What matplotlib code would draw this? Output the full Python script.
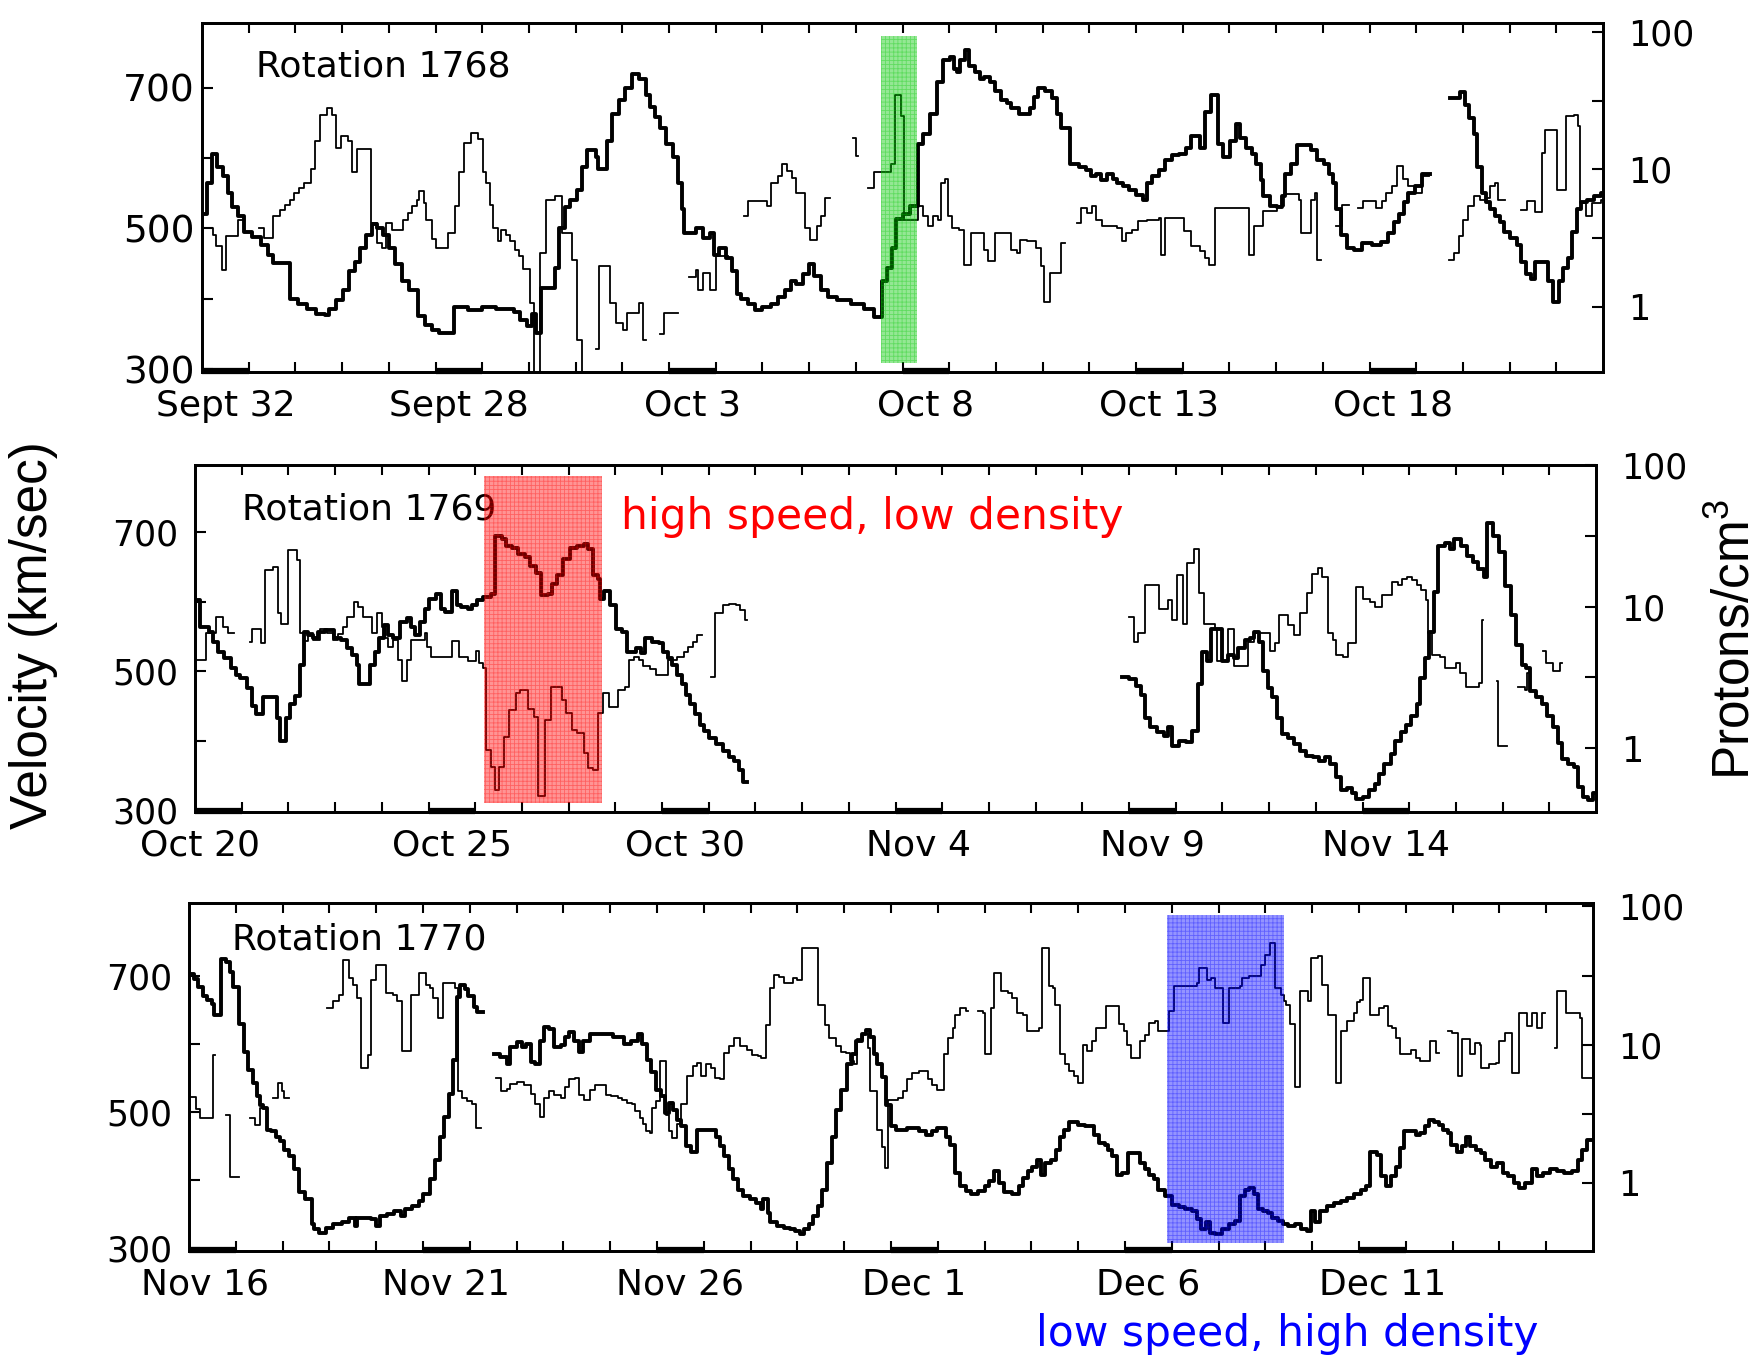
import numpy as np
import matplotlib
matplotlib.use('Agg')
import matplotlib.pyplot as plt
from matplotlib.ticker import NullLocator

# step breakpoints (day from panel start, value); None = data gap
vel_1768 = [
    (0.0, 520), (0.1, 565), (0.22, 606), (0.32, 588), (0.44, 574), (0.56, 550), (0.65, 530),
    (0.78, 518), (0.91, 495), (1.07, 488), (1.27, 476), (1.41, 462), (1.53, 451), (1.88, 400),
    (2.05, 393), (2.24, 386), (2.44, 379), (2.63, 377), (2.73, 386), (2.88, 398), (3.02, 412),
    (3.15, 439), (3.27, 453), (3.38, 472), (3.51, 490), (3.64, 506), (3.75, 500), (3.87, 490),
    (4.0, 472), (4.14, 449), (4.29, 425), (4.43, 412), (4.63, 375), (4.78, 363), (4.92, 356),
    (5.07, 351), (5.39, 388), (5.7, 384), (5.99, 388), (6.29, 386), (6.68, 381), (6.82, 370),
    (6.97, 361), (7.07, 379), (7.16, 351), (7.26, 416), (7.55, 444), (7.65, 500), (7.77, 530),
    (7.89, 541), (8.04, 555), (8.14, 587), (8.24, 611), (8.43, 601), (8.48, 585), (8.68, 625),
    (8.77, 662), (8.92, 682), (9.06, 699), (9.21, 719), (9.36, 712), (9.5, 689), (9.6, 673),
    (9.7, 659), (9.81, 643), (9.94, 620), (10.09, 601), (10.19, 564), (10.28, 527), (10.33, 493),
    (10.58, 500), (10.72, 486), (10.87, 493), (10.96, 462), (11.06, 472), (11.21, 458),
    (11.35, 439), (11.45, 407), (11.55, 400), (11.7, 393), (11.84, 384), (11.99, 388),
    (12.18, 393), (12.33, 402), (12.48, 412), (12.62, 425), (12.72, 421), (12.87, 435),
    (12.99, 449), (13.11, 432), (13.26, 412), (13.4, 402), (13.6, 398), (13.89, 393),
    (14.18, 386), (14.38, 374), (14.57, 425), (14.67, 444), (14.77, 472), (14.87, 513),
    (15.0, 520), (15.15, 532), (15.34, 620), (15.44, 634), (15.58, 662), (15.73, 708),
    (15.87, 740), (16.02, 743), (16.1, 726), (16.17, 722), (16.23, 740), (16.33, 754),
    (16.43, 731), (16.55, 722), (16.65, 712), (16.75, 715), (16.87, 708), (16.99, 696),
    (17.11, 682), (17.23, 678), (17.33, 671), (17.5, 662), (17.72, 671), (17.82, 687),
    (17.91, 699), (18.06, 696), (18.2, 685), (18.3, 662), (18.4, 643), (18.59, 592),
    (18.79, 587), (18.93, 583), (19.03, 574), (19.15, 578), (19.24, 569), (19.37, 578),
    (19.5, 571), (19.59, 564), (19.73, 560), (19.85, 555), (20.0, 548), (20.15, 541),
    (20.24, 564), (20.34, 574), (20.49, 583), (20.63, 597), (20.78, 604), (20.92, 606),
    (21.07, 615), (21.17, 631), (21.36, 615), (21.48, 666), (21.6, 689), (21.75, 620),
    (21.86, 601), (22.01, 625), (22.14, 648), (22.23, 629), (22.35, 615), (22.48, 606),
    (22.57, 592), (22.67, 569), (22.72, 546), (22.86, 532), (23.01, 530), (23.13, 546),
    (23.2, 578), (23.32, 592), (23.45, 618), (23.74, 611), (23.88, 597), (24.03, 592),
    (24.13, 578), (24.22, 564), (24.29, 527), (24.39, 490), (24.51, 472), (24.66, 469),
    (24.85, 479), (25.05, 476), (25.24, 481), (25.39, 493), (25.53, 509), (25.63, 520),
    (25.73, 537), (25.83, 550), (25.97, 560), (26.12, 578), (26.3, None), (26.72, 685),
    (26.94, 694), (27.04, 675), (27.14, 657), (27.23, 634), (27.3, 587), (27.4, 550),
    (27.5, 537), (27.59, 527), (27.69, 518), (27.79, 509), (27.88, 495), (28.01, 486),
    (28.16, 476), (28.25, 453), (28.35, 435), (28.45, 428), (28.54, 453), (28.83, 425),
    (28.93, 395), (29.05, 425), (29.15, 444), (29.24, 458), (29.34, 495), (29.44, 527),
    (29.53, 537), (29.66, 541), (29.8, 546), (29.95, 550), (30.0, 550),
]
den_1768 = [
    (0.0, 3.75), (0.24, 3.35), (0.29, 2.75), (0.42, 1.86), (0.52, 3.26), (0.78, 4.3), (0.88, None),
    (1.22, 3.75), (1.32, 3.17), (1.53, 4.6), (1.66, 5.1), (1.77, 5.55), (1.88, 6.0), (1.98, 6.7),
    (2.08, 7.35), (2.19, 8.0), (2.34, 10), (2.41, 16), (2.53, 25), (2.68, 28), (2.78, 25),
    (2.88, 14.4), (2.97, 17.5), (3.12, 16), (3.22, 9.5), (3.31, 14), (3.61, 4.1), (3.75, 2.9),
    (3.85, 2.7), (3.95, 4.1), (4.06, 3.65), (4.31, 4.3), (4.41, 4.8), (4.5, 5.4), (4.6, 6.0),
    (4.65, 7.0), (4.75, 5.7), (4.8, 4.3), (4.92, 3.1), (5.02, 2.7), (5.26, 3.45), (5.41, 5.4),
    (5.51, 9.5), (5.6, 15.6), (5.75, 18.5), (5.9, 16.5), (6.01, 9.5), (6.09, 8.0), (6.17, 5.55),
    (6.24, 3.75), (6.34, 3.0), (6.4, 3.65), (6.5, 3.35), (6.6, 3.0), (6.7, 2.6), (6.79, 2.33),
    (6.87, 1.9), (7.02, 1.06), (7.1, 0.3), (7.23, 2.46), (7.36, 6.0), (7.55, 6.4), (7.7, 3.45),
    (7.92, 2.2), (8.02, 0.57), (8.14, 0.29), (8.2, None), (8.43, 0.49), (8.51, 1.97),
    (8.74, 1.06), (8.87, 0.76), (9.02, 0.68), (9.11, 0.9), (9.36, 1.06), (9.45, 0.57),
    (9.5, None), (9.8, 0.64), (9.89, 0.9), (10.19, None), (10.43, 1.66), (10.57, 1.86),
    (10.62, 1.33), (10.72, 1.76), (10.87, 1.33), (11.01, 2.33), (11.26, None), (11.6, 4.56),
    (11.7, 5.9), (12.09, 5.4), (12.18, 8.0), (12.33, 9.0), (12.41, 10.9), (12.52, 9.7),
    (12.64, 8.7), (12.73, 6.7), (12.91, 3.75), (13.01, 3.08), (13.16, 3.86), (13.26, 4.56),
    (13.35, 6.2), (13.45, None), (13.94, 17), (14.0, 12.5), (14.05, None), (14.26, 7.35),
    (14.38, 9.5), (14.75, 11), (14.84, 35), (14.97, 24.5), (15.03, 4.3), (15.34, 5.4),
    (15.44, 4.56), (15.55, 3.86), (15.65, 4.56), (15.75, 4.3), (15.83, 8.0), (15.92, 8.5),
    (15.97, 4.56), (16.07, 3.75), (16.21, 3.65), (16.31, 2.03), (16.46, 3.45), (16.75, 2.6),
    (16.84, 2.14), (16.99, 3.45), (17.33, 2.6), (17.46, 2.46), (17.52, 3.08), (17.67, 3.0),
    (17.86, 2.7), (17.96, 1.97), (18.04, 1.09), (18.16, 1.76), (18.4, 2.9), (18.47, None),
    (18.74, 4.1), (18.83, 5.25), (18.95, 4.8), (19.05, 5.4), (19.15, 4.3), (19.27, 3.86),
    (19.59, 3.75), (19.69, 3.0), (19.79, 3.45), (19.92, 3.65), (20.05, 4.2), (20.24, 4.3),
    (20.49, 4.4), (20.54, 2.4), (20.63, 4.4), (21.02, 3.55), (21.17, 2.76), (21.36, 2.53),
    (21.48, 2.27), (21.57, 2.03), (21.7, 5.25), (22.43, 2.4), (22.52, 3.86), (22.72, 5.0),
    (23.01, 5.4), (23.16, 6.6), (23.48, 6.0), (23.54, 3.45), (23.74, 6.0), (23.83, 6.7),
    (23.88, 2.2), (23.96, None), (24.29, 3.86), (24.42, 5.55), (24.56, None), (24.76, 5.25),
    (24.87, 5.9), (25.13, 5.25), (25.27, 5.9), (25.36, 6.7), (25.49, 7.55), (25.58, 10.6),
    (25.71, 8.5), (25.83, 7.55), (25.98, 6.7), (26.12, 9.0), (26.27, None), (26.7, 2.2),
    (26.82, 2.46), (26.91, 3.26), (27.01, 4.3), (27.11, 5.4), (27.23, 6.4), (27.37, 6.0),
    (27.5, 6.2), (27.59, 7.55), (27.69, 8.0), (27.75, 6.0), (27.9, None), (28.25, 5.1),
    (28.37, 5.9), (28.54, 4.9), (28.69, 13.2), (28.76, 19.3), (29.01, 7.1), (29.2, 24.5),
    (29.37, 25), (29.47, 20.7), (29.51, 5.7), (29.63, 4.56), (29.76, 5.7), (29.95, 6.0),
    (30.0, 6.0),
]

vel_1769 = [
    (0.0, 602), (0.1, 564), (0.29, 557), (0.39, 542), (0.49, 528), (0.63, 519), (0.78, 504),
    (0.88, 495), (0.97, 490), (1.12, 476), (1.22, 450), (1.31, 438), (1.46, 462), (1.75, 433),
    (1.83, 400), (1.95, 433), (2.04, 452), (2.14, 464), (2.24, 509), (2.34, 557), (2.43, 552),
    (2.53, 547), (2.63, 557), (2.78, 559), (2.97, 547), (3.12, 545), (3.26, 533), (3.36, 523),
    (3.46, 509), (3.51, 481), (3.75, 509), (3.85, 528), (3.94, 547), (4.04, 566), (4.14, 552),
    (4.24, 547), (4.38, 571), (4.53, 576), (4.62, 564), (4.72, 552), (4.82, 571), (4.92, 590),
    (5.01, 604), (5.16, 611), (5.26, 590), (5.36, 585), (5.5, 616), (5.6, 595), (5.7, 592),
    (5.84, 590), (5.94, 595), (6.04, 602), (6.17, 607), (6.33, 611), (6.43, 695), (6.57, 690),
    (6.67, 680), (6.79, 678), (6.91, 669), (7.06, 664), (7.18, 652), (7.3, 642), (7.4, 609),
    (7.55, 611), (7.64, 626), (7.76, 638), (7.89, 661), (8.03, 678), (8.18, 680), (8.33, 683),
    (8.42, 676), (8.52, 638), (8.62, 633), (8.67, 604), (8.76, 616), (8.89, 595), (9.01, 561),
    (9.15, 557), (9.25, 528), (9.45, 533), (9.54, 526), (9.64, 547), (9.79, 542), (9.93, 540),
    (10.03, 528), (10.13, 519), (10.22, 509), (10.32, 495), (10.42, 481), (10.52, 466),
    (10.61, 452), (10.71, 438), (10.81, 423), (10.91, 414), (11.0, 404), (11.15, 395),
    (11.3, 385), (11.44, 376), (11.54, 371), (11.64, 357), (11.73, 340), (11.83, None),
    (19.86, 492), (20.01, 488), (20.15, 478), (20.25, 466), (20.35, 433), (20.45, 419),
    (20.59, 412), (20.74, 407), (20.83, 419), (20.93, 392), (21.08, 400), (21.22, 398),
    (21.35, 414), (21.47, 481), (21.56, 528), (21.66, 514), (21.76, 561), (22.0, 514),
    (22.13, 523), (22.25, 519), (22.34, 533), (22.49, 545), (22.59, 547), (22.68, 557),
    (22.78, 542), (22.88, 500), (22.97, 476), (23.07, 462), (23.17, 433), (23.27, 409),
    (23.41, 404), (23.53, 395), (23.66, 385), (23.8, 378), (23.95, 376), (24.07, 371),
    (24.19, 376), (24.31, 366), (24.43, 347), (24.53, 328), (24.66, 331), (24.77, 324),
    (24.87, 316), (25.02, 319), (25.14, 328), (25.26, 338), (25.36, 352), (25.47, 366),
    (25.6, 381), (25.7, 400), (25.82, 412), (25.94, 423), (26.04, 435), (26.16, 452),
    (26.23, 490), (26.33, 519), (26.43, 557), (26.53, 614), (26.62, 680), (26.77, 685),
    (26.87, 676), (26.97, 690), (27.11, 680), (27.23, 666), (27.36, 657), (27.48, 647),
    (27.6, 635), (27.67, 714), (27.8, 695), (27.92, 671), (28.05, 623), (28.17, 581),
    (28.29, 538), (28.41, 509), (28.51, 504), (28.58, 471), (28.71, 462), (28.84, 452),
    (28.95, 435), (29.07, 419), (29.18, 397), (29.27, 373), (29.4, 366), (29.52, 362),
    (29.62, 333), (29.73, 319), (29.83, 314), (29.93, 324), (30.0, 324),
]
den_1769 = [
    (0.0, 4.2), (0.24, 6.5), (0.46, 8.5), (0.59, 7.2), (0.71, 6.5), (0.83, None), (1.17, 5.6),
    (1.23, 7.0), (1.41, 5.5), (1.49, 18.1), (1.66, 19.2), (1.78, 8.95), (1.85, 7.6), (2.0, 25),
    (2.19, 21.3), (2.24, 6.5), (2.34, 5.7), (2.43, 6.5), (2.53, 5.8), (2.68, 6.9), (2.82, 6.5),
    (2.95, 5.8), (3.07, 6.4), (3.16, 7.2), (3.26, 8.5), (3.41, 10.8), (3.5, 10), (3.6, 8.5),
    (3.8, 6.5), (3.9, 9.0), (4.0, 7.2), (4.06, 6.0), (4.14, 5.2), (4.24, 5.8), (4.35, 4.2),
    (4.43, 3.0), (4.53, 4.2), (4.62, 5.8), (4.92, 6.5), (4.97, 5.2), (5.06, 4.4), (5.5, 5.7),
    (5.65, 4.4), (5.84, 4.1), (6.01, 4.9), (6.09, 4.0), (6.16, 3.7), (6.23, 0.97), (6.33, 0.74),
    (6.42, 0.51), (6.52, 0.74), (6.62, 1.21), (6.72, 1.86), (6.88, 2.44), (6.96, 2.58),
    (7.14, 1.9), (7.25, 1.67), (7.35, 0.46), (7.5, 1.58), (7.62, 2.7), (7.86, 2.2), (7.95, 1.77),
    (8.08, 1.35), (8.18, 1.28), (8.33, 0.92), (8.42, 0.72), (8.52, 0.7), (8.62, 1.77),
    (8.73, 2.44), (8.86, 1.95), (9.06, 2.58), (9.2, 2.7), (9.3, 4.2), (9.4, 4.4), (9.5, 4.2),
    (9.59, 3.8), (9.74, 3.6), (9.88, 3.3), (10.13, 4.2), (10.32, 4.4), (10.47, 4.8),
    (10.56, 5.2), (10.66, 5.65), (10.76, 6.3), (10.86, None), (11.05, 3.2), (11.13, 9.0),
    (11.3, 10.2), (11.44, 10.5), (11.59, 10.2), (11.68, 9.5), (11.78, 8.1), (11.83, None),
    (20.01, 8.5), (20.11, 5.65), (20.2, 6.5), (20.35, 14.2), (20.64, 9.7), (20.83, 11.1),
    (20.93, 8.1), (21.03, 16.7), (21.16, 7.6), (21.25, 20.2), (21.39, 25.7), (21.49, 12.4),
    (21.61, 7.6), (21.84, 7.0), (21.88, 4.1), (22.13, 6.9), (22.25, 3.8), (22.54, 5.65),
    (22.68, 6.5), (23.02, 4.9), (23.12, 5.5), (23.22, 8.7), (23.41, 7.4), (23.53, 6.3),
    (23.66, 8.95), (23.82, 12.4), (23.92, 17.1), (24.04, 18.6), (24.14, 16.3), (24.27, 6.5),
    (24.37, 5.8), (24.43, 4.55), (24.58, 4.4), (24.68, 5.5), (24.87, 13.8), (25.02, 11.4),
    (25.16, 10.8), (25.26, 10.0), (25.41, 12.1), (25.63, 15.0), (25.75, 14.2), (25.84, 15.8),
    (25.96, 16.3), (26.06, 15.4), (26.16, 14.2), (26.25, 13.1), (26.35, 11.1), (26.41, 6.5),
    (26.48, 4.55), (26.67, 4.4), (26.77, 3.7), (27.01, 4.0), (27.09, 3.4), (27.21, 2.7),
    (27.5, 2.87), (27.55, 8.1), (27.58, None), (27.87, 3.0), (27.91, 1.03), (28.1, None),
    (28.33, 2.7), (28.47, 2.58), (28.52, 3.4), (28.57, None), (28.86, 4.9), (28.94, 4.0),
    (29.07, 3.5), (29.23, 4.0), (29.28, None),
]

vel_1770 = [
    (0.0, 703), (0.1, 695), (0.2, 683), (0.29, 671), (0.39, 664), (0.49, 659), (0.54, 642),
    (0.68, 725), (0.78, 720), (0.88, 705), (0.95, 683), (1.07, 630), (1.17, 588), (1.27, 562),
    (1.36, 542), (1.46, 523), (1.51, 510), (1.59, 506), (1.66, 474), (1.75, 472), (1.85, 464),
    (1.95, 457), (2.04, 445), (2.14, 435), (2.24, 416), (2.34, 382), (2.48, 372), (2.63, 335),
    (2.68, 328), (2.78, 323), (2.92, 330), (3.07, 335), (3.26, 338), (3.41, 345), (3.55, 333),
    (3.6, 345), (3.89, 343), (3.99, 333), (4.09, 347), (4.24, 350), (4.38, 355), (4.53, 347),
    (4.62, 357), (4.77, 362), (4.92, 369), (5.01, 379), (5.16, 401), (5.26, 430), (5.36, 464),
    (5.45, 493), (5.55, 527), (5.65, 576), (5.72, 669), (5.79, 686), (5.89, 681), (5.97, 671),
    (6.09, 654), (6.16, 647), (6.28, None), (6.52, 586), (6.65, 581), (6.79, 571), (6.86, 596),
    (7.01, 603), (7.11, 596), (7.2, 600), (7.3, 574), (7.4, 571), (7.5, 605), (7.59, 625),
    (7.69, 622), (7.79, 596), (7.94, 598), (8.03, 610), (8.13, 618), (8.23, 605), (8.33, 588),
    (8.42, 605), (8.57, 615), (9.06, 610), (9.3, 600), (9.45, 605), (9.59, 615), (9.69, 600),
    (9.79, 577), (9.88, 559), (9.98, 532), (10.08, 523), (10.17, 498), (10.26, 513),
    (10.35, 503), (10.42, 489), (10.52, 479), (10.61, 450), (10.72, 442), (10.86, 474),
    (11.25, 464), (11.34, 450), (11.44, 435), (11.54, 416), (11.63, 401), (11.73, 386),
    (11.83, 377), (11.98, 372), (12.12, 367), (12.22, 357), (12.27, 372), (12.37, 352),
    (12.41, 338), (12.56, 333), (12.71, 330), (12.85, 328), (12.95, 325), (13.05, 321),
    (13.14, 328), (13.24, 335), (13.34, 347), (13.44, 362), (13.53, 386), (13.63, 425),
    (13.73, 464), (13.83, 503), (13.93, 532), (14.06, 571), (14.16, 586), (14.25, 605),
    (14.37, 615), (14.46, 620), (14.56, 610), (14.64, 586), (14.71, 571), (14.8, 552),
    (14.9, 510), (15.0, 479), (15.1, 474), (15.35, 476), (15.59, 472), (15.74, 467),
    (15.88, 472), (15.98, 476), (16.18, 464), (16.27, 452), (16.37, 411), (16.47, 391),
    (16.61, 384), (16.71, 379), (16.86, 384), (17.0, 391), (17.1, 399), (17.2, 413),
    (17.3, 396), (17.42, 382), (17.59, 379), (17.73, 391), (17.83, 403), (17.93, 413),
    (18.02, 420), (18.12, 430), (18.2, 408), (18.3, 425), (18.42, 430), (18.53, 445),
    (18.61, 464), (18.69, 474), (18.81, 486), (19.0, 481), (19.15, 479), (19.34, 467),
    (19.44, 454), (19.57, 452), (19.64, 445), (19.73, 435), (19.83, 408), (19.93, 411),
    (20.07, 440), (20.32, 425), (20.42, 416), (20.51, 408), (20.61, 401), (20.71, 386),
    (20.85, 377), (21.0, 364), (21.15, 360), (21.29, 357), (21.44, 355), (21.54, 343),
    (21.63, 328), (21.74, 338), (21.81, 323), (21.93, 321), (22.07, 328), (22.22, 335),
    (22.36, 340), (22.46, 377), (22.56, 386), (22.66, 389), (22.75, 379), (22.85, 357),
    (22.95, 355), (23.05, 352), (23.14, 345), (23.27, 340), (23.37, 335), (23.49, 333),
    (23.63, 335), (23.76, 328), (23.88, 325), (23.97, 355), (24.05, 338), (24.17, 355),
    (24.31, 362), (24.46, 367), (24.61, 369), (24.75, 374), (24.9, 379), (25.04, 386),
    (25.16, 391), (25.24, 442), (25.38, 437), (25.48, 406), (25.58, 391), (25.68, 406),
    (25.78, 420), (25.87, 447), (25.97, 472), (26.22, 467), (26.31, 469), (26.41, 479),
    (26.49, 489), (26.6, 486), (26.7, 481), (26.8, 474), (26.9, 469), (26.97, 452),
    (27.09, 442), (27.21, 450), (27.29, 464), (27.38, 450), (27.5, 445), (27.6, 440),
    (27.7, 430), (27.82, 420), (27.95, 425), (28.07, 411), (28.18, 406), (28.31, 396),
    (28.41, 389), (28.55, 396), (28.7, 416), (28.8, 406), (28.94, 411), (29.09, 416),
    (29.24, 413), (29.38, 411), (29.55, 413), (29.67, 430), (29.77, 445), (29.87, 459),
    (30.0, 459),
]
den_1770 = [
    (0.0, 4.2), (0.15, 3.4), (0.24, 2.95), (0.52, 8.4), (0.56, None), (0.78, 3.1), (0.88, 1.09),
    (1.07, None), (1.31, 2.95), (1.41, 2.6), (1.51, 3.5), (1.59, None), (1.8, 4.1), (1.9, 5.3),
    (1.98, 4.6), (2.04, 4.1), (2.14, None), (2.95, 18.4), (3.07, 20.6), (3.21, 23), (3.28, 41),
    (3.41, 30.4), (3.51, 27), (3.6, 21.7), (3.67, 6.8), (3.83, 8.4), (3.89, 29.5), (3.99, 37.9),
    (4.22, 23.6), (4.35, 23), (4.45, 20.6), (4.55, 9.0), (4.75, 23), (4.92, 32.8), (5.06, 27),
    (5.16, 25.6), (5.21, 21.7), (5.31, 15.5), (5.42, 27.8), (5.68, 25.6), (5.74, 4.6),
    (5.84, 4.1), (5.94, 3.9), (6.04, 3.7), (6.13, 2.5), (6.23, None), (6.57, 5.7), (6.67, 4.6),
    (6.79, 4.8), (6.86, 5.2), (7.01, 5.4), (7.16, 5.1), (7.3, 4.4), (7.4, 3.7), (7.5, 3.0),
    (7.59, 4.1), (7.69, 4.6), (7.79, 4.3), (7.94, 4.1), (8.03, 4.95), (8.13, 5.6), (8.25, 5.75),
    (8.34, 4.35), (8.44, 4.0), (8.57, 4.7), (8.67, 5.1), (8.91, 4.35), (9.01, 4.25), (9.16, 4.1),
    (9.25, 4.0), (9.35, 3.8), (9.47, 3.7), (9.54, 3.3), (9.64, 2.95), (9.71, 2.65), (9.77, 2.36),
    (9.84, 2.3), (9.9, 3.5), (9.98, 3.9), (10.06, 7.6), (10.2, 3.1), (10.25, 2.36), (10.32, 2.1),
    (10.42, 2.65), (10.52, 3.7), (10.64, 5.9), (10.76, 7.0), (10.86, 7.4), (10.95, 5.9),
    (11.05, 7.2), (11.15, 6.8), (11.25, 5.75), (11.34, 5.6), (11.44, 8.7), (11.54, 9.8),
    (11.64, 11.2), (11.78, 9.8), (11.93, 9.2), (12.03, 8.4), (12.15, 8.2), (12.22, 8.0),
    (12.32, 13.9), (12.41, 25.6), (12.51, 32), (12.61, 31), (12.71, 27.8), (12.9, 30.4),
    (12.99, 29.5), (13.09, 50), (13.44, 19.5), (13.58, 13.9), (13.68, 11.2), (13.83, 9.7),
    (13.93, 8.9), (14.03, 8.7), (14.12, 7.6), (14.22, 7.2), (14.27, 11), (14.4, 12), (14.5, 9.5),
    (14.55, 4.6), (14.7, 2.4), (14.8, 1.8), (14.88, 1.28), (14.93, 4.0), (15.15, 4.1),
    (15.25, 4.6), (15.35, 5.6), (15.44, 6.2), (15.59, 6.4), (15.79, 5.6), (15.88, 5.1),
    (15.98, 4.7), (16.13, 8.5), (16.22, 11.2), (16.32, 13.2), (16.37, 16.5), (16.47, 18.4),
    (16.61, 17.4), (16.65, None), (16.86, 17.4), (16.96, 16.9), (17.0, 8.5), (17.13, 18.4),
    (17.2, 33), (17.36, 24.3), (17.49, 23.6), (17.59, 21.7), (17.69, 16.9), (17.81, 16.5),
    (17.91, 12.5), (18.17, 13.2), (18.22, 50), (18.37, 26.4), (18.47, 25.7), (18.51, 19.5),
    (18.61, 8.5), (18.71, 7.2), (18.81, 6.4), (18.9, 5.9), (19.0, 5.3), (19.1, 10), (19.18, 9),
    (19.29, 10.6), (19.39, 13.2), (19.59, 18.9), (19.88, 14), (19.98, 12.5), (20.05, 10),
    (20.12, 8.0), (20.32, 10.6), (20.42, 11.8), (20.51, 14.3), (20.64, 14.7), (20.71, 12.5),
    (20.95, 17.4), (21.05, 26.4), (21.54, 27.9), (21.58, 35.8), (21.75, 29.5), (21.83, 30.3),
    (21.93, 25.7), (22.1, 14.3), (22.22, 25.7), (22.46, 26.4), (22.51, 30.3), (22.66, 31.2),
    (22.9, 37.9), (23.0, 44.8), (23.1, 54.3), (23.21, 25.7), (23.34, 23), (23.39, 20.6),
    (23.44, 19.5), (23.53, 14), (23.63, 4.9), (23.73, 24.3), (23.92, 20.6), (23.97, 42.3),
    (24.12, 43.5), (24.22, 27.2), (24.34, 16.5), (24.51, 5.3), (24.61, 12.5), (24.75, 14.7),
    (24.9, 16.9), (24.95, 20.3), (25.03, 21.2), (25.09, 30.3), (25.24, 16.5), (25.43, 18.4),
    (25.53, 18.9), (25.61, 13.6), (25.71, 13.2), (25.78, 11.2), (25.87, 8.5), (26.12, 9.2),
    (26.21, 8.0), (26.31, 7.6), (26.51, 10.6), (26.65, 8.7), (26.7, None), (26.9, 12.5),
    (26.99, 12.1), (27.11, 5.9), (27.21, 10.9), (27.38, 8.5), (27.48, 10.3), (27.58, 10.0),
    (27.6, 6.8), (27.77, 7.2), (27.92, 7.4), (27.99, 10.6), (28.11, 12.1), (28.26, 6.2),
    (28.41, 16.9), (28.6, 13.6), (28.7, 16.9), (28.8, 13.2), (28.92, 16.9), (28.97, None),
    (29.19, 9.5), (29.24, 24.3), (29.43, 16.9), (29.72, 15.6), (29.77, 5.7), (29.92, 5.7),
    (30.0, 5.7),
]

rotations = ['Rotation 1768', 'Rotation 1769', 'Rotation 1770']
date_labels = [
    ['Sept 32', 'Sept 28', 'Oct 3', 'Oct 8', 'Oct 13', 'Oct 18'],
    ['Oct 20', 'Oct 25', 'Oct 30', 'Nov 4', 'Nov 9', 'Nov 14'],
    ['Nov 16', 'Nov 21', 'Nov 26', 'Dec 1', 'Dec 6', 'Dec 11'],
]
highlights = [(14.55, 15.3), (6.18, 8.71), (20.9, 23.39)]
highlight_colors = ['#00c800', '#ff0000', '#0000ff']

# layout (pixels of the 1762x1361 canvas)
W, H = 1762, 1361
boxes = [(202, 1603, 23, 372), (195, 1596, 465, 812), (189, 1593, 903, 1251)]
vel_lims = [(296, 792), (297, 797), (296, 807)]
den_lims = [(0.336, 116), (0.355, 100), (0.32, 106)]
first_label = [0.5, 0.1, 0.35]
left_pads = [5, 12, 12]
left_sizes = [27, 25, 25]
rot_pos = [(0.0385, 0.874), (0.0335, 0.873), (0.0306, 0.894)]
span_y = [(0.026, 0.963), (0.026, 0.968), (0.023, 0.966)]

vel_series = [vel_1768, vel_1769, vel_1770]
den_series = [den_1768, den_1769, den_1770]


def unpack(pairs):
    d = np.array([p[0] for p in pairs], dtype=float)
    v = np.array([p[1] for p in pairs], dtype=float)
    return d, v


plt.rcParams['hatch.linewidth'] = 0.6
fig = plt.figure(figsize=(W / 100, H / 100), dpi=100)

for i in range(3):
    l, r, t, b = boxes[i]
    ax = fig.add_axes([l / W, 1 - b / H, (r - l) / W, (b - t) / H])
    d, v = unpack(vel_series[i])
    ax.step(d, v, where='post', color='black', lw=2.8, zorder=2)
    ax.set_xlim(0, 30)
    ax.set_ylim(*vel_lims[i])

    ax.set_xticks(np.arange(1, 30))
    lab_pos = [first_label[i]] + [5 * k + 0.5 for k in range(1, 6)]
    ax.set_xticks(lab_pos, date_labels[i], minor=True)
    ax.tick_params(axis='x', which='major', direction='in', length=7, width=1.5,
                   top=True, labelbottom=False)
    ax.tick_params(axis='x', which='minor', length=0, pad=12, labelsize=26)
    ax.set_yticks([300, 400, 500, 600, 700], ['300', '', '500', '', '700'])
    ax.tick_params(axis='y', direction='in', length=8, width=1.5, labelsize=left_sizes[i],
                   pad=left_pads[i])
    for k in range(6):
        ax.plot([5 * k, 5 * k + 1], [0.004, 0.004], transform=ax.get_xaxis_transform(),
                color='black', lw=4.5, solid_capstyle='butt', clip_on=False)

    ax2 = ax.twinx()
    ax2.set_yscale('log')
    dd, n = unpack(den_series[i])
    ax2.step(dd, n, where='post', color='black', lw=1.3, zorder=2)
    ax2.set_ylim(*den_lims[i])
    ax2.set_yticks([1, 10 ** 0.5, 10, 10 ** 1.5, 100], ['1', '', '10', '', '100'])
    ax2.yaxis.set_minor_locator(NullLocator())
    ax2.tick_params(axis='y', direction='in', length=8, width=1.5, labelsize=25, pad=18)

    x0, x1 = highlights[i]
    y0, y1 = span_y[i]
    ax2.axvspan(x0, x1, y0, y1, facecolor=highlight_colors[i], alpha=0.42,
                edgecolor='none', zorder=5)
    ax2.axvspan(x0, x1, y0, y1, facecolor='none', edgecolor=highlight_colors[i],
                alpha=0.35, hatch='++++', lw=0, zorder=6)

    for a in (ax, ax2):
        for s in a.spines.values():
            s.set_linewidth(2.0)

    ax.text(rot_pos[i][0], rot_pos[i][1], rotations[i], transform=ax.transAxes,
            fontsize=26, ha='left', va='center')

fig.text(34 / W, 1 - 635 / H, 'Velocity (km/sec)', rotation=90, ha='center',
         va='center', fontsize=37, family='Liberation Sans')
fig.text(1736 / W, 1 - 640 / H, r'Protons/cm$^\mathregular{3}$', rotation=90,
         ha='center', va='center', fontsize=37, family='Liberation Sans')
fig.text(872 / W, 1 - 517 / H, 'high speed, low density', color='red',
         fontsize=30.5, ha='center', va='center')
fig.text(1287 / W, 1 - 1334 / H, 'low speed, high density', color='blue',
         fontsize=30.5, ha='center', va='center')

fig.savefig('out.png', dpi=100)
